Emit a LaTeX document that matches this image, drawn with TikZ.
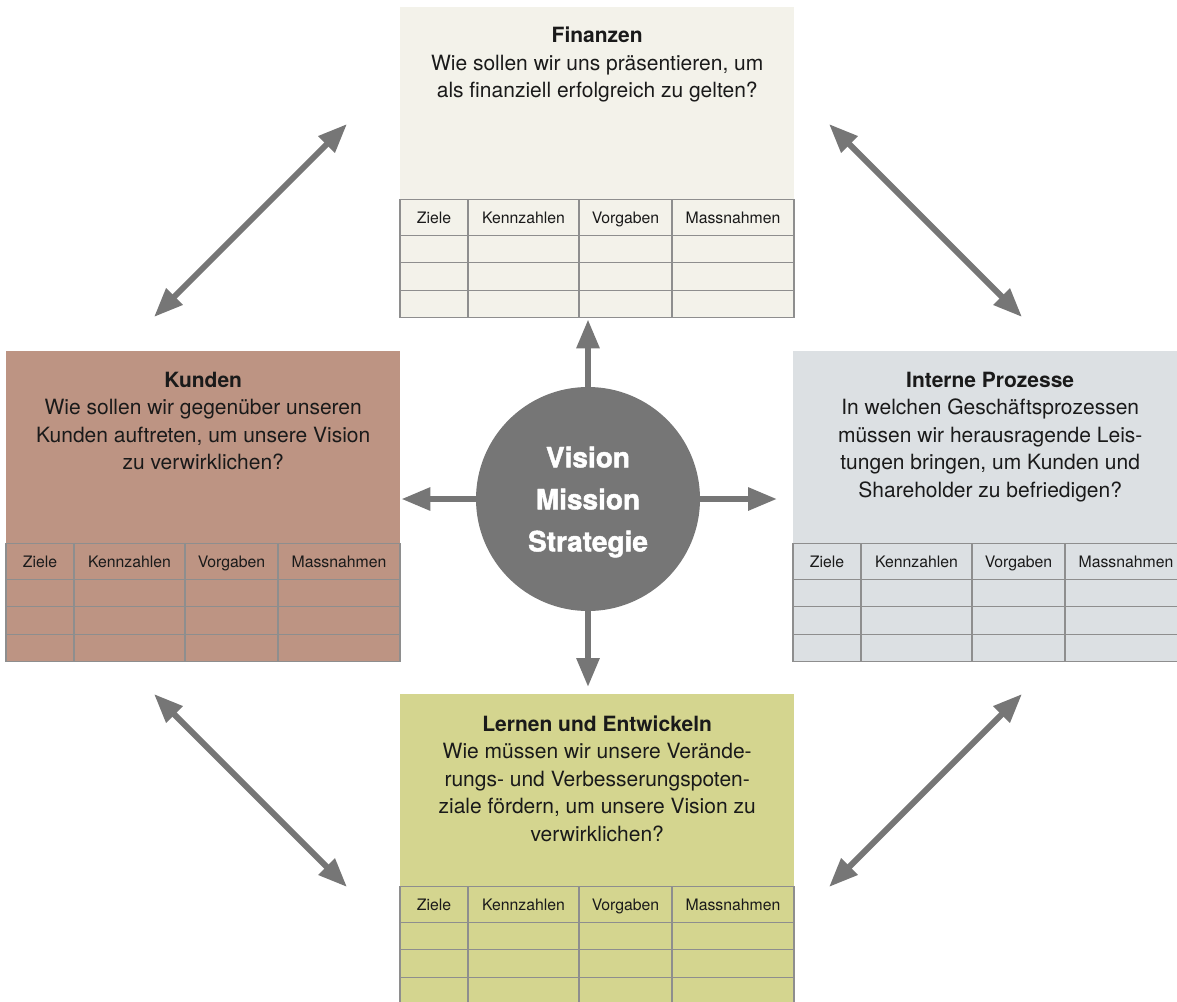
\documentclass[tikz,border=0pt]{standalone}
\usepackage{fontspec}
\setmainfont{TeX Gyre Heros}
\newfontfamily\heavyfont[BoldFeatures={FakeBold=1.6}]{TeX Gyre Heros}
\usepackage{tikz}
\usetikzlibrary{arrows.meta}

\definecolor{finfill}{HTML}{F3F2EA}
\definecolor{kunfill}{HTML}{BD9483}
\definecolor{profill}{HTML}{DCE0E3}
\definecolor{lerfill}{HTML}{D4D58F}
\definecolor{vmsgray}{HTML}{767676}
\definecolor{gridgray}{HTML}{8E8E8E}
\definecolor{textblack}{HTML}{1A1A1A}

\tikzset{
  panel/.style={rectangle, minimum width=394pt, minimum height=310pt, inner sep=0pt, anchor=north west},
  paneltext/.style={anchor=north, align=center, inner sep=0pt, text=textblack, font=\fontsize{21}{27.5}\selectfont},
  gridline/.style={draw=gridgray, line width=1.3pt},
  headtext/.style={inner sep=0pt, text height=11.5pt, text depth=3.5pt, text=textblack, font=\fontsize{15.8}{18}\selectfont},
  spoke/.style={draw=vmsgray, line width=6pt, -{Triangle[length=29pt, width=22pt]}},
  link/.style={draw=vmsgray, line width=6pt, {Triangle[length=29pt, width=22pt]}-{Triangle[length=29pt, width=22pt]}}
}

\newcommand{\kpitable}[1]{%
  \begin{scope}[shift={(#1.south west)}]
    \draw[gridline] (0,-118) rectangle (394,0);
    \foreach \y in {-82,-55,-27} \draw[gridline] (0,\y) -- (394,\y);
    \foreach \x in {68,179,272} \draw[gridline] (\x,-118) -- (\x,0);
    \node[headtext] (#1-ziele) at (34,-98) {Ziele};
    \node[headtext] (#1-kennz) at (123.5,-98) {Kennzahlen};
    \node[headtext] (#1-vorg) at (225.5,-98) {Vorgaben};
    \node[headtext] (#1-mass) at (333,-98) {Massnahmen};
  \end{scope}}

\begin{document}
\begin{tikzpicture}[x=1pt, y=-1pt]
    \useasboundingbox[fill=white] (0,0) rectangle (1177,1001);

    \node[panel, fill=finfill] (fin) at (400,7) {};
    \node[panel, fill=kunfill] (kun) at (6,351) {};
    \node[panel, fill=profill] (pro) at (793,351) {};
    \node[panel, fill=lerfill] (ler) at (400,694) {};

    \node[paneltext] (fintxt) at ([yshift=-20pt]fin.north) {\textbf{Finanzen}\\Wie sollen wir uns präsentieren, um\\als finanziell erfolgreich zu gelten?};
    \node[paneltext] (kuntxt) at ([yshift=-20.5pt]kun.north) {\textbf{Kunden}\\Wie sollen wir gegenüber unseren\\Kunden auftreten, um unsere Vision\\zu verwirklichen?};
    \node[paneltext] (protxt) at ([yshift=-20.5pt]pro.north) {\textbf{Interne Prozesse}\\In welchen Geschäftsprozessen\\müssen wir herausragende Leis-\\tungen bringen, um Kunden und\\Shareholder zu befriedigen?};
    \node[paneltext] (lertxt) at ([yshift=-21.5pt]ler.north) {\textbf{Lernen und Entwickeln}\\Wie müssen wir unsere Verände-\\rungs- und Verbesserungspoten-\\ziale fördern, um unsere Vision zu\\verwirklichen?};

    \kpitable{fin}
    \kpitable{kun}
    \kpitable{pro}
    \kpitable{ler}

    \node[circle, fill=vmsgray, minimum size=224pt, inner sep=0pt] (vms) at (588,499) {};
    \node[align=center, inner sep=0pt, text=white, font=\fontsize{28}{42}\heavyfont\bfseries]
          (vmstxt) at ([yshift=-3pt]vms.center) {Vision\\Mission\\Strategie};

    \draw[spoke, shorten >=2pt] (vms.north) -- (vms.north |- fin.south);
    \draw[spoke, shorten >=16pt] (vms.east) -- (vms.east -| pro.west);
    \draw[spoke, shorten >=1pt] (vms.west) -- (vms.west -| kun.east);
    \draw[spoke, shorten >=7pt] (vms.south) -- (vms.south |- ler.north);

    \coordinate (kf1) at (154,317);
    \coordinate (kf2) at (347,124);
    \coordinate (fp1) at (829,124);
    \coordinate (fp2) at (1022,317);
    \coordinate (kl1) at (154,694);
    \coordinate (kl2) at (347,887);
    \coordinate (pl1) at (1022,694);
    \coordinate (pl2) at (829,887);
    \draw[link] (kf1) -- (kf2);
    \draw[link] (fp1) -- (fp2);
    \draw[link] (kl1) -- (kl2);
    \draw[link] (pl1) -- (pl2);
\end{tikzpicture}
\end{document}
